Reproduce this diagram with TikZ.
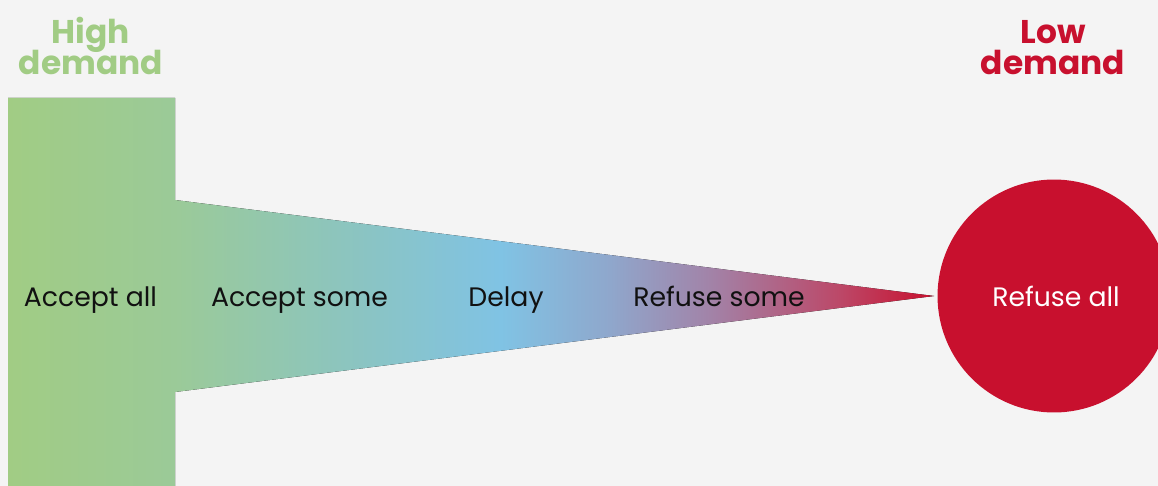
\documentclass[tikz,border=0pt]{standalone}
\usepackage{fontspec}
\setmainfont{Poppins}
\definecolor{paper}{HTML}{F4F4F4}
\definecolor{leaf}{HTML}{A1CC84}
\definecolor{sage}{HTML}{9BCA98}
\definecolor{teal}{HTML}{8AC4C4}
\definecolor{sky}{HTML}{80C3E4}
\definecolor{haze}{HTML}{8FA7CC}
\definecolor{plum}{HTML}{A283A8}
\definecolor{rose}{HTML}{BC4868}
\definecolor{crimson}{HTML}{C8102E}
\definecolor{ink}{HTML}{111111}
% colour runs left to right over the inner 50bp of the shading
\pgfdeclarehorizontalshading{demand}{100bp}{color(0bp)=(leaf); color(25bp)=(leaf);
  color(34bp)=(sage); color(44.5bp)=(teal); color(51.6bp)=(sky); color(57.5bp)=(haze);
  color(62.9bp)=(plum); color(69.9bp)=(rose); color(75bp)=(crimson); color(100bp)=(crimson)}
% bold heading font with a fixed line distance
\newcommand\headfont{\fontsize{18.7}{18.2}\selectfont\bfseries\lineskiplimit=-30pt\relax}

\begin{document}
\begin{tikzpicture}[x=0.02cm, y=-0.02cm,
    head/.style={font=\headfont, align=center, anchor=base},
    lab/.style={font=\fontsize{15.2}{18}\selectfont, text=ink, anchor=base}]
  % fixed 1158 x 486 px canvas
  \fill[paper] (0,0) rectangle (1158,486);
  \path[use as bounding box] (0,0) rectangle (1158,486);

  % ================= funnel: high demand block narrowing to a point =================
  \fill[shading=demand]
    (8,98) -- (175,98) -- (175,200) -- (934,296) -- (175,392) -- (175,486) -- (8,486) -- cycle;

  % ================= refuse all =================
  \node[circle, fill=crimson, minimum size=4.66cm, inner sep=0pt] (refall) at (1054,296) {};

  % ================= labels (base = last line) =================
  \node[head, text=leaf] (high) at (91,75) {High\\demand};
  \node[head, text=crimson] (low) at (1053,75) {Low\\demand};
  \node[lab] (accall) at (90.5,306) {Accept all};
  \node[lab] (accsome) at (299.5,306) {Accept some};
  \node[lab] (delay) at (506,306) {Delay};
  \node[lab] (refsome) at (719,306) {Refuse some};
  \node[lab, text=white] (reflab) at (1056,306) {Refuse all};
\end{tikzpicture}
\end{document}
